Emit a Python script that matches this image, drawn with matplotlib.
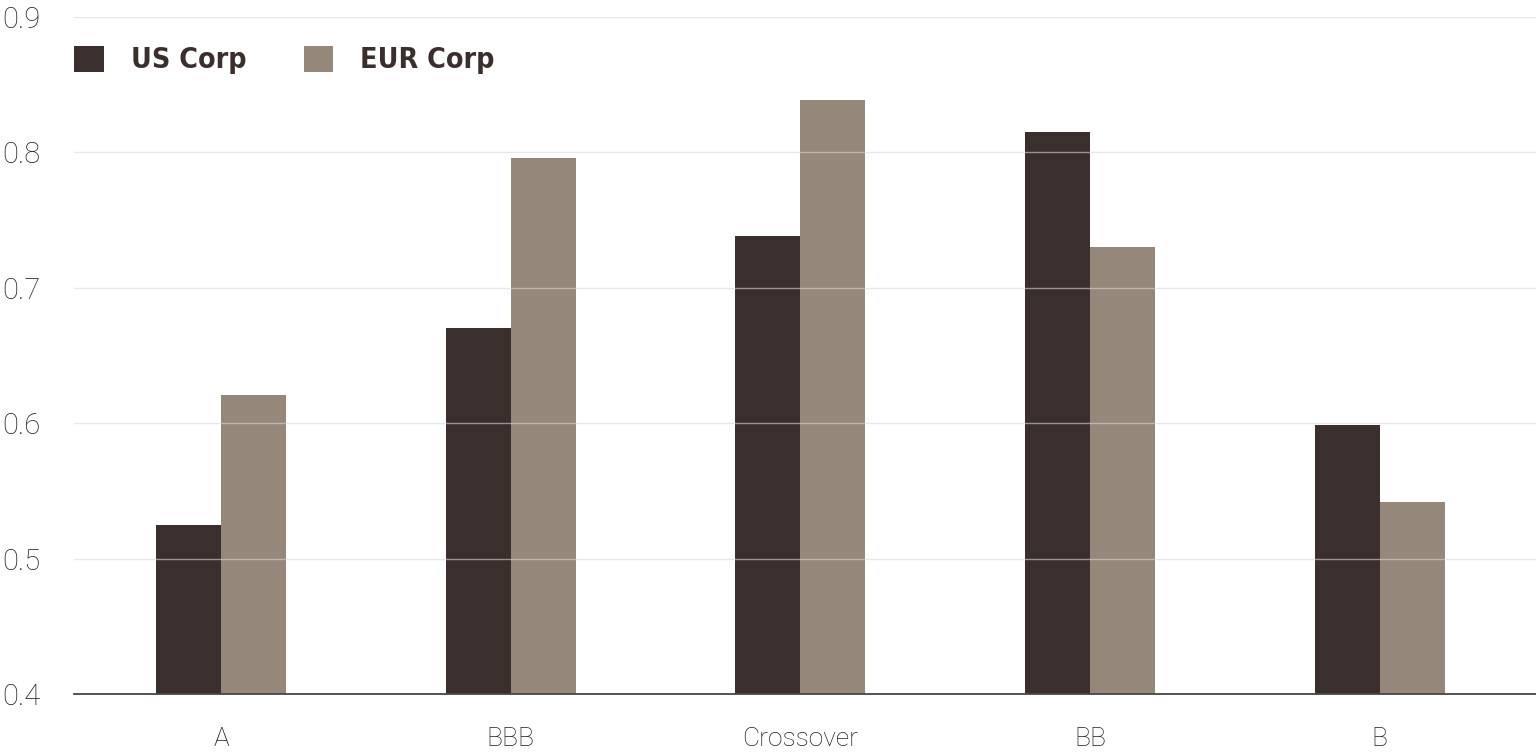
import matplotlib.pyplot as plt
import numpy as np

categories = ['A', 'BBB', 'Crossover', 'BB', 'B']
us_corp = [0.525, 0.670, 0.738, 0.815, 0.599]
eur_corp = [0.621, 0.796, 0.839, 0.730, 0.542]
yticks = [0.4, 0.5, 0.6, 0.7, 0.8, 0.9]

US_COLOR = '#3b2f2d'
EUR_COLOR = '#958779'

fig = plt.figure(figsize=(15.36, 7.54), dpi=100)
ax = fig.add_axes([0.0482, 0.0796, 0.9518, 0.8979])

x = np.arange(len(categories))
w = 0.2245
b1 = ax.bar(x - w / 2, us_corp, w, color=US_COLOR, label='US Corp', zorder=1)
b2 = ax.bar(x + w / 2, eur_corp, w, color=EUR_COLOR, label='EUR Corp', zorder=1)

ax.set_ylim(0.4, 0.9)
ax.set_xlim(-0.508, 4.54)
ax.set_yticks(yticks)
ax.set_yticklabels([f'{t:.1f}' for t in yticks])
ax.set_xticks(x)
ax.set_xticklabels(categories)

for t in ax.get_yticklabels() + ax.get_xticklabels():
    t.set_fontfamily('Roboto')
    t.set_fontweight('light')
    t.set_color('#221c1c')
for t in ax.get_yticklabels():
    t.set_fontsize(21)
    t.set_horizontalalignment('left')
for t in ax.get_xticklabels():
    t.set_fontsize(19)

ax.tick_params(axis='y', length=0, pad=52)
ax.tick_params(axis='x', length=0, pad=24)

# gridlines sit on top of the bars, faintly
ax.grid(axis='y', color='#d8d8d8', alpha=0.6, linewidth=1, zorder=3)
ax.set_axisbelow(False)
for s in ['top', 'right', 'left']:
    ax.spines[s].set_visible(False)
ax.spines['bottom'].set_color('#4a4444')
ax.spines['bottom'].set_linewidth(1.3)
ax.spines['bottom'].set_zorder(4)

leg = fig.legend(handles=[b1, b2], loc='center left',
                 bbox_to_anchor=(74 / 1536, 1 - 60 / 754), ncol=2,
                 frameon=False, borderpad=0, borderaxespad=0,
                 handlelength=1.05, handleheight=1.05, handletextpad=0.95,
                 columnspacing=2.0,
                 prop={'family': 'DejaVu Sans', 'stretch': 'condensed',
                       'weight': 'bold', 'size': 20.5})
for t in leg.get_texts():
    t.set_color('#3b2f2d')

fig.savefig('out.png', dpi=100)
